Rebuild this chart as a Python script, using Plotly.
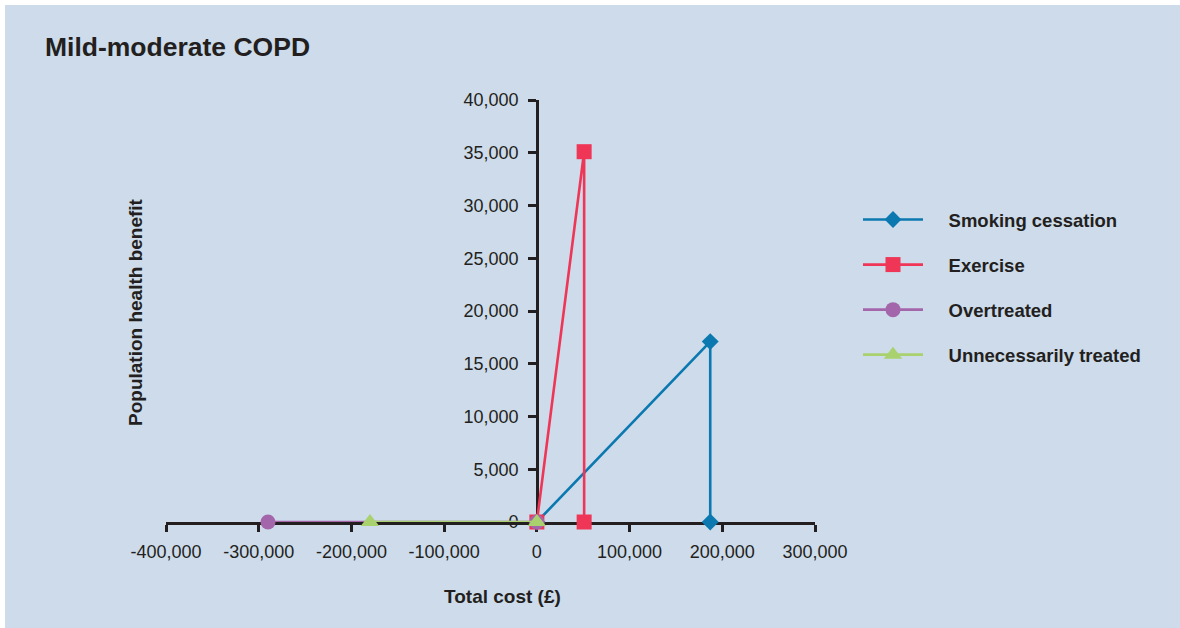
import plotly.graph_objects as go

# Data
smoking_x = [0, 187000, 187000]
smoking_y = [0, 17100, 0]
exercise_x = [0, 51000, 51000]
exercise_y = [0, 35100, 0]
overtreated_x = [-290000, 0]
overtreated_y = [0, 0]
unnecessary_x = [-180000, 0]
unnecessary_y = [0, 0]

series_names = ["Smoking cessation", "Exercise", "Overtreated", "Unnecessarily treated"]
x_ticks = [-400000, -300000, -200000, -100000, 0, 100000, 200000, 300000]
y_ticks = [0, 5000, 10000, 15000, 20000, 25000, 30000, 35000, 40000]

BG = "#cddbea"
AXIS = "#231f20"
FONT = "Liberation Sans, Arial, sans-serif"
GAP = "\u00a0" * 4  # extra space between legend symbol and text

fig = go.Figure()

series = [
    (series_names[0], smoking_x, smoking_y, "#0b79b0", "diamond", 13),
    (series_names[1], exercise_x, exercise_y, "#ef3656", "square", 15),
    (series_names[2], overtreated_x, overtreated_y, "#a466ab", "circle", 15),
    (series_names[3], unnecessary_x, unnecessary_y, "#a9d26f", "triangle-up", 16),
]
for i, (name, xs, ys, col, sym, sz) in enumerate(series):
    fig.add_trace(go.Scatter(
        x=xs, y=ys, name=GAP + name, mode="lines+markers",
        line=dict(color=col, width=2.6),
        marker=dict(symbol=sym, size=sz, color=col),
        cliponaxis=False, legendgroup=f"g{i}",
    ))

W, H = 1180, 628
L, R, T, B = 166, 1180 - 815, 100, 628 - 522

def px2paper_x(px):
    return (px - L) / (W - L - R)

def px2paper_y(py):
    return (H - B - py) / (H - B - T)

fig.update_layout(
    width=W, height=H,
    margin=dict(l=L, r=R, t=T, b=B, pad=0),
    paper_bgcolor=BG,
    plot_bgcolor="rgba(0,0,0,0)",
    font=dict(family=FONT, size=18, color=AXIS),
    showlegend=True,
    legend=dict(
        x=px2paper_x(858), y=px2paper_y(201), xanchor="left", yanchor="top",
        bgcolor="rgba(0,0,0,0)",
        font=dict(size=18.5, color=AXIS, family=FONT, weight="bold"),
        tracegroupgap=18, itemwidth=60,
    ),
    xaxis=dict(
        range=[-400000, 300000], tickvals=x_ticks,
        ticktext=[f"{v:,}" for v in x_ticks],
        showgrid=False, zeroline=False, showline=True, linecolor=AXIS, linewidth=2.5,
        ticks="outside", ticklen=7, tickwidth=2.5, tickcolor=AXIS,
        tickfont=dict(size=18, family=FONT, color=AXIS),
        ticklabelstandoff=5, layer="below traces",
    ),
    yaxis=dict(
        range=[0, 40000], tickvals=y_ticks,
        ticktext=[f"{v:,}" for v in y_ticks],
        anchor="free", position=400000 / 700000,
        showgrid=False, zeroline=False, showline=True, linecolor=AXIS, linewidth=2.5,
        ticks="outside", ticklen=8, tickwidth=2.5, tickcolor=AXIS,
        tickfont=dict(size=18, family=FONT, color=AXIS),
        ticklabelstandoff=6, layer="below traces",
    ),
    shapes=[
        dict(type="rect", xref="paper", yref="paper", layer="below",
             x0=px2paper_x(-10), x1=px2paper_x(1200), y0=px2paper_y(5), y1=px2paper_y(-10),
             fillcolor="white", line=dict(width=0)),
        dict(type="rect", xref="paper", yref="paper", layer="below",
             x0=px2paper_x(-10), x1=px2paper_x(5), y0=px2paper_y(650), y1=px2paper_y(-10),
             fillcolor="white", line=dict(width=0)),
    ],
    annotations=[
        dict(text="Mild-moderate COPD", xref="paper", yref="paper",
             x=px2paper_x(43), y=px2paper_y(47), xanchor="left", yanchor="middle",
             showarrow=False, font=dict(size=26.5, family=FONT, color=AXIS, weight="bold")),
        dict(text="Population health benefit", xref="paper", yref="paper",
             x=px2paper_x(135), y=px2paper_y(312), xanchor="center", yanchor="middle",
             textangle=-90, showarrow=False,
             font=dict(size=19, family=FONT, color=AXIS, weight="bold")),
        dict(text="Total cost (£)", xref="paper", yref="paper",
             x=px2paper_x(502), y=px2paper_y(596), xanchor="center", yanchor="middle",
             showarrow=False, font=dict(size=19, family=FONT, color=AXIS, weight="bold")),
    ],
)

fig.write_html(
    "out.html",
    config={"displayModeBar": False},
    post_script=(
        "document.body.style.margin='0';"
        "document.body.style.overflow='hidden';"
        "document.body.style.background='%s';"
        "document.documentElement.style.background='%s';" % (BG, BG)
    ),
)
